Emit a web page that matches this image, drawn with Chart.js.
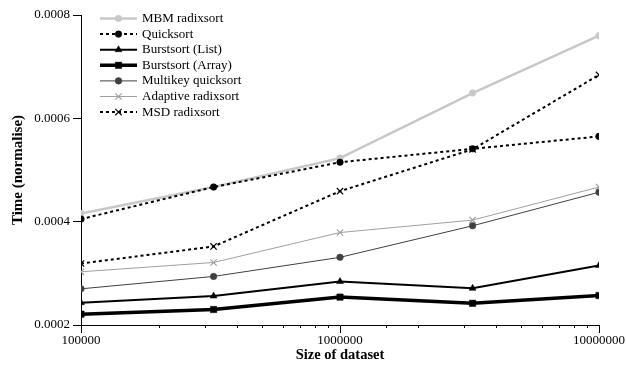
<!DOCTYPE html>
<html>
<head>
<meta charset="utf-8">
<script src="https://cdn.jsdelivr.net/npm/chart.js@4"></script>
<style>
  html, body { margin: 0; padding: 0; background: #fff; }
  #wrap { width: 626px; height: 367px; }
</style>
</head>
<body>
<div id="wrap"><canvas id="chart" width="626" height="367"></canvas></div>
<script>
'use strict';

const sizes = [100000, 325000, 1000000, 3250000, 10000000];
const xTicks = [100000, 1000000, 10000000];
const yTicks = [0.0002, 0.0004, 0.0006, 0.0008];

const mbmRadix   = [0.000416, 0.000467, 0.000523, 0.000649, 0.000760];
const quicksort  = [0.000405, 0.000467, 0.000515, 0.000541, 0.000565];
const burstList  = [0.000243, 0.000256, 0.000284, 0.000271, 0.000315];
const burstArray = [0.000221, 0.000230, 0.000254, 0.000242, 0.000257];
const multikey   = [0.000270, 0.000294, 0.000331, 0.000392, 0.000457];
const adaptive   = [0.000303, 0.000321, 0.000379, 0.000403, 0.000467];
const msdRadix   = [0.000319, 0.000352, 0.000459, 0.000540, 0.000684];

const FONT = 'Liberation Serif';

function series(label, values, color, width, dash, pointStyle, radius, order) {
  return {
    label: label,
    data: values.map((v, i) => ({ x: sizes[i], y: v })),
    borderColor: color,
    backgroundColor: color,
    pointBackgroundColor: color,
    pointBorderColor: color,
    borderWidth: width,
    borderDash: dash,
    pointStyle: pointStyle,
    pointRadius: radius,
    pointBorderWidth: pointStyle === 'crossRot' ? 1.2 : 0.5,
    tension: 0,
    order: order || 0
  };
}

// legend drawn inside the plot, top-left
const insideLegend = {
  id: 'insideLegend',
  afterDraw(chart) {
    const ctx = chart.ctx;
    const x0 = 100, x1 = 137, tx = 142;
    let y = 18.5;
    chart.data.datasets.forEach(ds => {
      ctx.save();
      ctx.strokeStyle = ds.borderColor;
      ctx.lineWidth = ds.borderWidth;
      ctx.setLineDash(ds.borderDash || []);
      ctx.beginPath();
      ctx.moveTo(x0, y);
      ctx.lineTo(x1, y);
      ctx.stroke();
      ctx.setLineDash([]);
      ctx.fillStyle = ds.pointBackgroundColor;
      ctx.strokeStyle = ds.pointBorderColor;
      ctx.lineWidth = ds.pointBorderWidth;
      Chart.helpers.drawPoint(ctx, {
        pointStyle: ds.pointStyle,
        radius: ds.pointRadius,
        borderWidth: ds.pointBorderWidth,
        rotation: 0
      }, (x0 + x1) / 2, y);
      ctx.fillStyle = '#000';
      ctx.font = '13px "' + FONT + '"';
      ctx.textBaseline = 'middle';
      ctx.textAlign = 'left';
      ctx.fillText(ds.label, tx, y);
      ctx.restore();
      y += 15.6;
    });
  }
};

// short minor ticks on the log axis
const minorTicks = {
  id: 'minorTicks',
  afterDraw(chart) {
    const sx = chart.scales.x;
    const ctx = chart.ctx;
    ctx.save();
    ctx.strokeStyle = '#000';
    ctx.lineWidth = 1;
    sx.ticks.forEach(t => {
      if (xTicks.includes(t.value)) return;
      const px = Math.round(sx.getPixelForValue(t.value)) + 0.5;
      ctx.beginPath();
      ctx.moveTo(px, sx.top);
      ctx.lineTo(px, sx.top + 3);
      ctx.stroke();
    });
    ctx.restore();
  }
};

new Chart(document.getElementById('chart'), {
  type: 'line',
  data: {
    datasets: [
      series('MBM radixsort', mbmRadix, '#c8c8c8', 2.5, [], 'circle', 3.3, 1),
      series('Quicksort', quicksort, '#000000', 2, [3, 3], 'circle', 3.3),
      series('Burstsort (List)', burstList, '#000000', 2, [], 'triangle', 4),
      series('Burstsort (Array)', burstArray, '#000000', 3.5, [], 'rect', 4.5),
      series('Multikey quicksort', multikey, '#404040', 1, [], 'circle', 3.3),
      series('Adaptive radixsort', adaptive, '#a0a0a0', 1, [], 'crossRot', 4.5),
      series('MSD radixsort', msdRadix, '#000000', 2, [3, 3], 'crossRot', 4.5)
    ]
  },
  options: {
    responsive: false,
    animation: false,
    layout: { padding: { top: 15, right: 27, left: 0, bottom: 0 } },
    plugins: {
      legend: { display: false },
      tooltip: { enabled: false }
    },
    scales: {
      x: {
        type: 'logarithmic',
        min: sizes[0],
        max: sizes[sizes.length - 1],
        afterFit(scale) { scale.height = 42; },
        border: { color: '#000', width: 1 },
        grid: {
          drawOnChartArea: false,
          tickLength: 8,
          tickColor: c => (c.tick && xTicks.includes(c.tick.value)) ? '#000' : 'rgba(0,0,0,0)'
        },
        ticks: {
          autoSkip: false,
          maxRotation: 0,
          color: '#000',
          padding: 0,
          font: { family: FONT, size: 13 },
          callback: v => xTicks.includes(v) ? String(v) : ''
        },
        title: {
          display: true,
          text: 'Size of dataset',
          color: '#000',
          padding: { top: 2, bottom: 3 },
          font: { family: FONT, size: 14.5, weight: 'bold' }
        }
      },
      y: {
        min: yTicks[0],
        max: yTicks[yTicks.length - 1],
        afterFit(scale) { scale.width = 81; },
        afterBuildTicks(scale) { scale.ticks = yTicks.map(v => ({ value: v })); },
        border: { color: '#000', width: 1 },
        grid: { drawOnChartArea: false, color: '#000', tickLength: 8 },
        ticks: {
          color: '#000',
          padding: 3,
          font: { family: FONT, size: 13 },
          callback: v => v.toFixed(4)
        },
        title: {
          display: true,
          text: 'Time (normalise)',
          color: '#000',
          padding: { top: 9, bottom: 0 },
          font: { family: FONT, size: 15, weight: 'bold' }
        }
      }
    }
  },
  plugins: [insideLegend, minorTicks]
});
</script>
</body>
</html>
